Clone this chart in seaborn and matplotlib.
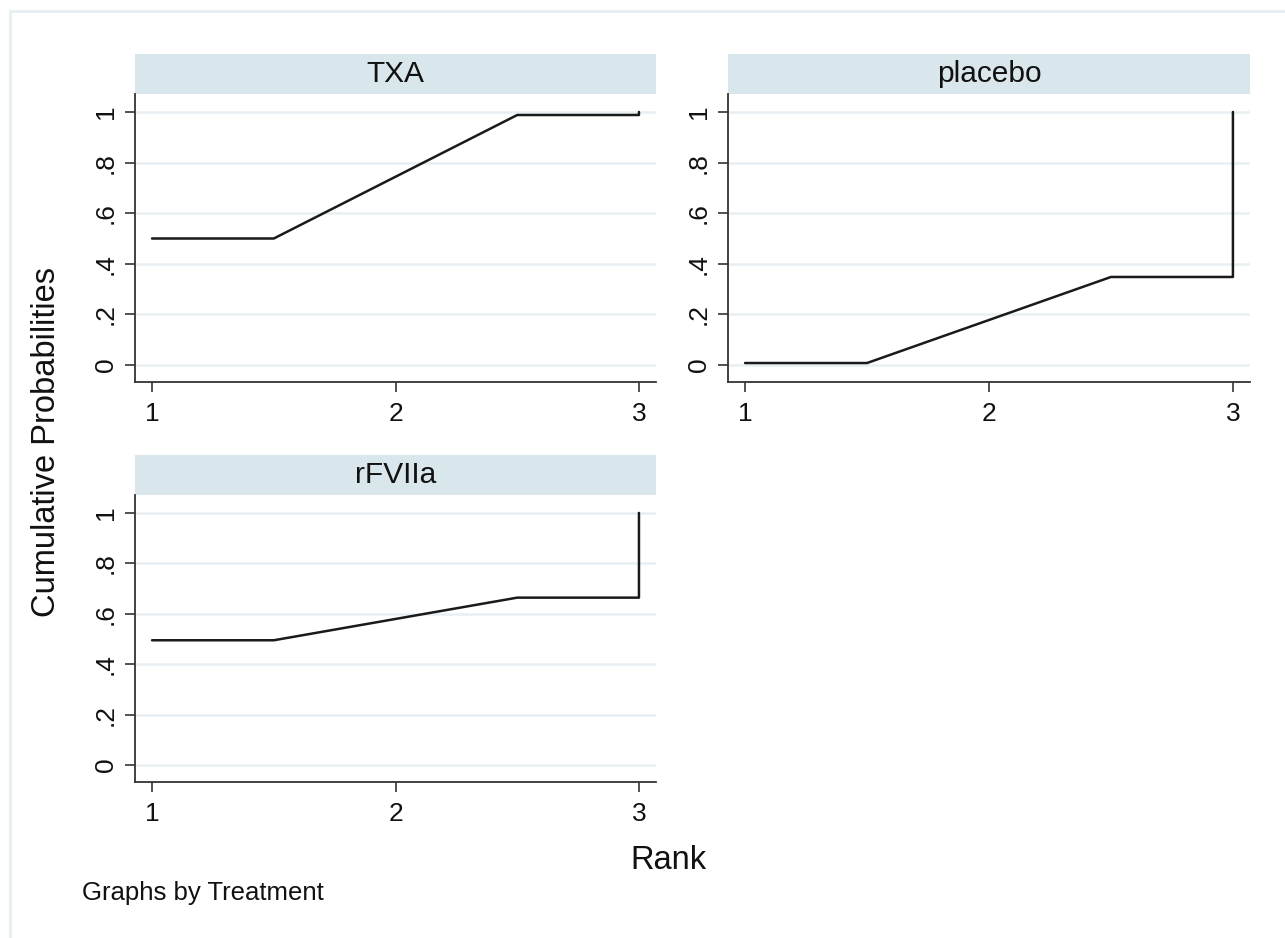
import pandas as pd
import seaborn as sns
import matplotlib.pyplot as plt
from matplotlib.patches import Rectangle
from matplotlib.lines import Line2D

# cumulative rank probabilities
treatments = ["TXA", "placebo", "rFVIIa"]
rank = [1, 1.5, 2.5, 3, 3]
txa = [0.5, 0.5, 0.988, 0.988, 1.0]
placebo = [0.008, 0.008, 0.348, 0.348, 1.0]
rfviia = [0.495, 0.495, 0.664, 0.664, 1.0]

yticks = [0, 0.2, 0.4, 0.6, 0.8, 1]
ytick_labels = ["0", ".2", ".4", ".6", ".8", "1"]
xticks = [1, 2, 3]

df = pd.DataFrame({
    "Treatment": [t for t in treatments for _ in rank],
    "Rank": rank * 3,
    "Cumulative Probabilities": txa + placebo + rfviia,
})

sns.set_style("white")
plt.rcParams["font.family"] = ["Liberation Sans", "DejaVu Sans"]

g = sns.relplot(data=df, x="Rank", y="Cumulative Probabilities", col="Treatment",
                col_wrap=2, kind="line", estimator=None, color="#1a1a1a",
                linewidth=1.8, col_order=treatments)
fig = g.figure
fig.set_size_inches(12.85, 9.38)
W, H = 1285, 938

# panel boxes in pixels: left, top, right, bottom
boxes = {"TXA": (135, 94, 656, 382), "placebo": (728, 94, 1250, 382),
         "rFVIIa": (135, 495, 656, 782)}
strip_h = 40

for name, ax in g.axes_dict.items():
    l, t, r, b = boxes[name]
    ax.set_position([l / W, 1 - b / H, (r - l) / W, (b - t) / H])
    ax.set_xlim(0.93, 3.07)
    ax.set_ylim(-0.067, 1.071)
    ax.set_xticks(xticks)
    ax.set_xticklabels([str(x) for x in xticks])
    ax.set_yticks(yticks)
    ax.set_yticklabels(ytick_labels, rotation=90, va="center")
    ax.tick_params(axis="both", which="both", length=7.5, width=1.2, color="#333333",
                   labelsize=19, labelcolor="#111111", bottom=True, left=True,
                   labelbottom=True, labelleft=True)
    ax.tick_params(axis="y", pad=5)
    ax.tick_params(axis="x", pad=7)
    ax.set_xlabel("")
    ax.set_ylabel("")
    ax.set_title("")
    ax.yaxis.grid(True, color="#e8eff2", linewidth=1.8)
    ax.set_axisbelow(True)
    for side in ["left", "bottom"]:
        ax.spines[side].set_color("#333333")
        ax.spines[side].set_linewidth(1.3)
    ax.spines["top"].set_visible(False)
    ax.spines["right"].set_visible(False)
    sh = strip_h / (b - t)
    ax.add_patch(Rectangle((0, 1), 1, sh, transform=ax.transAxes,
                           facecolor="#d9e6eb", edgecolor="none", clip_on=False))
    ax.text(0.5, 1 + sh / 2, name, transform=ax.transAxes, ha="center",
            va="center", fontsize=21.5, color="#111111")

fig.text(47 / W, 1 - 442 / H, "Cumulative Probabilities", rotation=90,
         ha="center", va="center", fontsize=23.5, color="#111111")
fig.text(668 / W, 1 - 860 / H, "Rank", ha="center", va="center",
         fontsize=23.5, color="#111111")
fig.text(82 / W, 1 - 893 / H, "Graphs by Treatment", ha="left", va="center",
         fontsize=18.5, color="#111111")

# light outer frame of the Stata graph region
fig.add_artist(Line2D([10 / W, 1], [1 - 11 / H, 1 - 11 / H], transform=fig.transFigure,
                      color="#e6eff1", linewidth=2))
fig.add_artist(Line2D([10 / W, 10 / W], [0, 1 - 11 / H], transform=fig.transFigure,
                      color="#e6eff1", linewidth=2))

fig.savefig("out.png", dpi=100)
